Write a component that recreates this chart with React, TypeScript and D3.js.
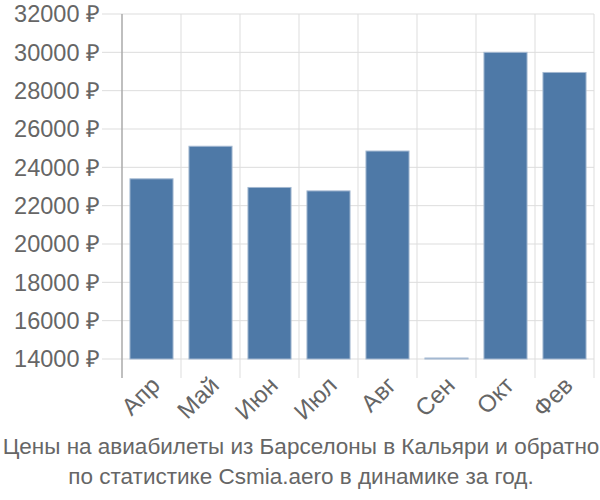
import React, { useEffect, useRef } from 'react';
import * as d3 from 'd3';

// chart data
const months = ['Апр', 'Май', 'Июн', 'Июл', 'Авг', 'Сен', 'Окт', 'Фев'];
const prices = [23400, 25100, 22950, 22770, 24850, 14000, 30000, 28950];
const yTicks = [14000, 16000, 18000, 20000, 22000, 24000, 26000, 28000, 30000, 32000];
const titleLines = [
  'Цены на авиабилеты из Барселоны в Кальяри и обратно',
  'по статистике Csmia.aero в динамике за год.',
];

const W = 600;
const H = 500;
const margin = { top: 14, right: 6, bottom: 141, left: 122 };

const App: React.FC = () => {
  const svgRef = useRef<SVGSVGElement>(null);

  useEffect(() => {
    if (!svgRef.current) return;
    const svg = d3.select(svgRef.current);
    svg.selectAll('*').remove();

    const font = 'Liberation Sans, Arial, sans-serif';
    const x0 = margin.left;
    const x1 = W - margin.right;
    const yTop = margin.top;
    const yBottom = H - margin.bottom;

    const x = d3.scaleBand<string>().domain(months).range([x0, x1]).paddingInner(0.27).paddingOuter(0.135);
    const y = d3.scaleLinear().domain([14000, 32000]).range([yBottom, yTop]);

    // horizontal grid + tick stubs
    svg.append('g')
      .selectAll('line')
      .data(yTicks)
      .join('line')
      .attr('x1', x0 - 20)
      .attr('x2', x1)
      .attr('y1', (d) => y(d))
      .attr('y2', (d) => y(d))
      .attr('stroke', '#dddddd')
      .attr('stroke-width', 1);

    // vertical grid at band boundaries
    const step = x.step();
    const bounds = months.map((_, i) => x0 + i * step).concat([x1]);
    svg.append('g')
      .selectAll('line')
      .data(bounds.slice(1))
      .join('line')
      .attr('x1', (d) => d)
      .attr('x2', (d) => d)
      .attr('y1', yTop)
      .attr('y2', yBottom + 19)
      .attr('stroke', '#dddddd')
      .attr('stroke-width', 1);

    // y axis line
    svg.append('line')
      .attr('x1', x0)
      .attr('x2', x0)
      .attr('y1', yTop)
      .attr('y2', yBottom + 19)
      .attr('stroke', '#aaaaaa')
      .attr('stroke-width', 1.5);

    // bars
    svg.append('g')
      .selectAll('rect')
      .data(months)
      .join('rect')
      .attr('x', (d) => x(d) as number)
      .attr('width', x.bandwidth())
      .attr('y', (_, i) => Math.min(y(prices[i]), yBottom - 1))
      .attr('height', (_, i) => Math.max(1, yBottom - y(prices[i])))
      .attr('fill', '#4e79a7')
      .attr('stroke', '#a3b8d1')
      .attr('stroke-width', 1);

    // y tick labels
    svg.append('g')
      .selectAll('text')
      .data(yTicks)
      .join('text')
      .attr('x', x0 - 22)
      .attr('y', (d) => y(d))
      .attr('dy', '0.36em')
      .attr('text-anchor', 'end')
      .attr('fill', '#666666')
      .attr('font-family', font)
      .attr('font-size', 23.5)
      .text((d) => `${d} ₽`);

    // x labels rotated
    svg.append('g')
      .selectAll('text')
      .data(months)
      .join('text')
      .attr('transform', (d) => `translate(${(x(d) as number) + x.bandwidth() / 2 - 2},${yBottom + 16}) rotate(-45)`)
      .attr('text-anchor', 'end')
      .attr('dy', '0.7em')
      .attr('fill', '#666666')
      .attr('font-family', font)
      .attr('font-size', 24)
      .text((d) => d);

    // title
    svg.append('g')
      .selectAll('text')
      .data(titleLines)
      .join('text')
      .attr('x', W / 2 + 1)
      .attr('y', (_, i) => 454 + i * 30)
      .attr('text-anchor', 'middle')
      .attr('fill', '#666666')
      .attr('font-family', font)
      .attr('font-size', 22.5)
      .text((d) => d);
  }, []);

  return (
    <svg
      ref={svgRef}
      width={W}
      height={H}
      style={{ position: 'absolute', left: 0, top: 0, background: '#fff' }}
    />
  );
};

export default App;
